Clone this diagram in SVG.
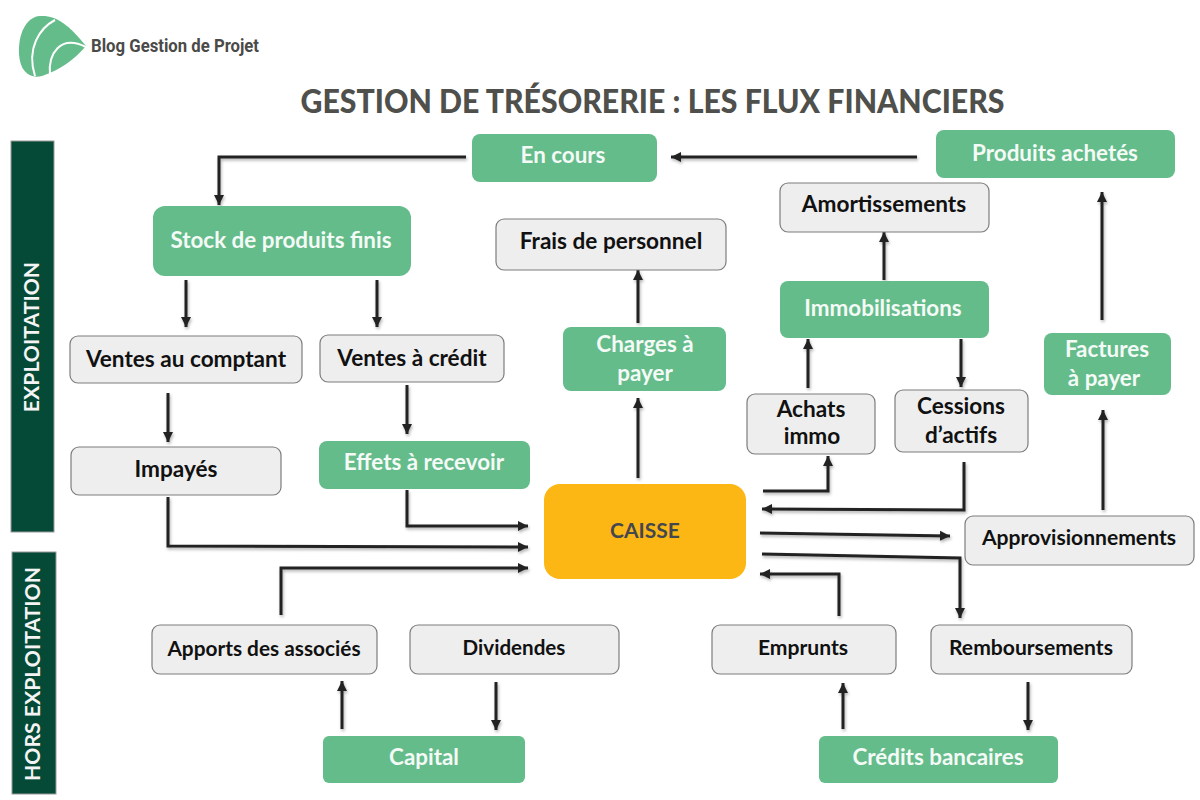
<svg xmlns="http://www.w3.org/2000/svg" width="1200" height="800" viewBox="0 0 1200 800">
<style>
text{font-family:"Lato","Liberation Sans",sans-serif;font-weight:700;text-anchor:middle}
.g rect{fill:#64bc8b}
.g text{fill:#f4faf6;font-size:22.4px}
.w rect{fill:#eeeeee;stroke:#7d7d7d;stroke-width:1.2}
.w text{fill:#111;font-size:22.6px}
.w.sm text{font-size:21.1px}
.side rect{fill:#054a36;stroke:#9a9a9a;stroke-width:1}
.side text{fill:#f4f4f4;font-size:21.2px}
#connectors path{fill:none;stroke:#222;stroke-width:3;marker-end:url(#a)}
#connectors{filter:url(#s)}
</style>
<defs>
<marker id="a" markerUnits="userSpaceOnUse" markerWidth="11" markerHeight="12" refX="10" refY="6" orient="auto"><path d="M0 1 L10 6 L0 11 Z" fill="#222"/></marker>
<filter id="s" x="-5%" y="-5%" width="110%" height="110%"><feDropShadow dx="1" dy="2" stdDeviation="1.6" flood-color="#000" flood-opacity=".3"/></filter>
</defs>
<rect width="1200" height="800" fill="#fff"/>
<g id="logo">
<path d="M40 16 C56 15 68 24 86 46 C74 60 60 70 42 76 C30 79 20 72 19 54 C18 34 26 17 40 16Z" fill="#64bc8b"/>
<path d="M55 20 C40 28 26 48 35 76" fill="none" stroke="#fff" stroke-width="2"/>
<path d="M50 75 C48 54 60 34 86 47" fill="none" stroke="#fff" stroke-width="2"/>
<text x="175" y="52" style="font-family:Roboto,sans-serif;font-size:18px;fill:#4a4a48;font-weight:700" textLength="168" lengthAdjust="spacingAndGlyphs">Blog Gestion de Projet</text>
</g>
<text id="title" x="652.500" y="113" textLength="704" lengthAdjust="spacingAndGlyphs" style="font-size:32.500px;font-weight:900;fill:#4f4f4c">GESTION DE TRÉSORERIE : LES FLUX FINANCIERS</text>
<g id="exploitation" class="side"><rect x="11" y="141" width="43" height="391"/><text transform="translate(39 337) rotate(-90)">EXPLOITATION</text></g>
<g id="hors-exploitation" class="side"><rect x="12" y="552" width="44" height="242"/><text transform="translate(40 674) rotate(-90)">HORS EXPLOITATION</text></g>
<g id="connectors">
<path d="M466 157H219V205"/>
<path d="M917 157H671"/>
<path d="M186 280V327"/>
<path d="M377 280V327"/>
<path d="M168 393V442"/>
<path d="M407 385V434"/>
<path d="M168 497V546L528 547"/>
<path d="M407 490V526H528"/>
<path d="M281 615V568H528"/>
<path d="M638 478V398"/>
<path d="M638 323V270"/>
<path d="M884 280V232"/>
<path d="M808 388V339"/>
<path d="M961 339V387"/>
<path d="M763 491H828V456"/>
<path d="M964 462V510L762 509"/>
<path d="M760 533L950 536"/>
<path d="M762 554L960 558V618"/>
<path d="M839 616V574H760"/>
<path d="M1102 320V192"/>
<path d="M1103 510V410"/>
<path d="M342 729V681"/>
<path d="M496 682V730"/>
<path d="M843 729V683"/>
<path d="M1028 682V730"/>
</g>
<g id="en-cours" class="g"><rect x="472" y="134" width="185" height="48" rx="8"/><text x="563" y="163">En cours</text></g>
<g id="produits-achetes" class="g"><rect x="936" y="130" width="239" height="48" rx="8"/><text x="1055" y="161">Produits achetés</text></g>
<g id="stock" class="g"><rect x="153" y="206" width="258" height="70" rx="12"/><text x="281" y="248">Stock de produits finis</text></g>
<g id="amortissements" class="w"><rect x="780" y="183" width="209" height="49" rx="8"/><text x="884" y="212">Amortissements</text></g>
<g id="frais" class="w"><rect x="496" y="219" width="230" height="51" rx="8"/><text x="611" y="249">Frais de personnel</text></g>
<g id="immobilisations" class="g"><rect x="780" y="281" width="209" height="57" rx="8"/><text x="883" y="316">Immobilisations</text></g>
<g id="charges" class="g"><rect x="563" y="327" width="163" height="64" rx="8"/><text x="645" y="352">Charges à</text><text x="645" y="381">payer</text></g>
<g id="factures" class="g"><rect x="1044" y="333" width="127" height="62" rx="8"/><text x="1107" y="357">Factures</text><text x="1104" y="386">à payer</text></g>
<g id="comptant" class="w"><rect x="70" y="336" width="232" height="47" rx="8"/><text x="186" y="367">Ventes au comptant</text></g>
<g id="credit" class="w"><rect x="320" y="335" width="184" height="47" rx="8"/><text x="412" y="366">Ventes à crédit</text></g>
<g id="achats" class="w"><rect x="747" y="394" width="128" height="60" rx="8"/><text x="811" y="417">Achats</text><text x="812" y="444">immo</text></g>
<g id="cessions" class="w"><rect x="895" y="390" width="133" height="62" rx="8"/><text x="961" y="414">Cessions</text><text x="961" y="443">d’actifs</text></g>
<g id="impayes" class="w"><rect x="71" y="447" width="210" height="48" rx="8"/><text x="176" y="477">Impayés</text></g>
<g id="effets" class="g"><rect x="319" y="441" width="211" height="48" rx="8"/><text x="424" y="470">Effets à recevoir</text></g>
<g id="caisse"><rect x="544" y="484" width="202" height="95" rx="16" fill="#fdb714"/><text x="645" y="538" style="font-size:21px;fill:#45474f">CAISSE</text></g>
<g id="approvisionnements" class="w sm"><rect x="965" y="516" width="229" height="49" rx="8"/><text x="1079" y="545">Approvisionnements</text></g>
<g id="apports" class="w sm"><rect x="152" y="625" width="225" height="49" rx="8"/><text x="264" y="656" style="font-size:20.800px">Apports des associés</text></g>
<g id="dividendes" class="w sm"><rect x="410" y="625" width="209" height="49" rx="8"/><text x="514" y="655" style="font-size:20.600px">Dividendes</text></g>
<g id="emprunts" class="w sm"><rect x="712" y="625" width="184" height="49" rx="8"/><text x="803" y="655">Emprunts</text></g>
<g id="remboursements" class="w sm"><rect x="931" y="625" width="201" height="49" rx="8"/><text x="1031" y="655">Remboursements</text></g>
<g id="capital" class="g"><rect x="323" y="736" width="202" height="47" rx="6"/><text x="424" y="765">Capital</text></g>
<g id="credits" class="g"><rect x="819" y="736" width="239" height="47" rx="6"/><text x="938" y="765">Crédits bancaires</text></g>
</svg>
